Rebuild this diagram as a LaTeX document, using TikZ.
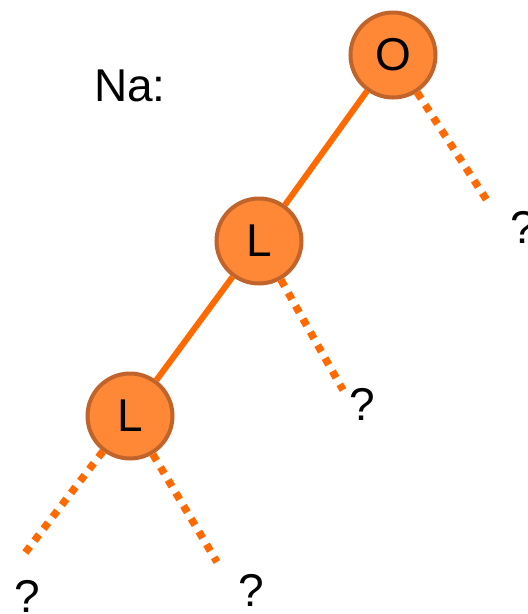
\documentclass[tikz,border=0pt]{standalone}
\usepackage{fontspec}
\setmainfont{Liberation Sans}
\definecolor{nodefill}{HTML}{FF8836}
\definecolor{nodeborder}{HTML}{C0642C}
\definecolor{edgecol}{HTML}{FF6A00}
\begin{document}
\begin{tikzpicture}[x=1pt,y=-1pt,
  tnode/.style={circle,fill=nodefill,draw=nodeborder,line width=4pt,minimum size=85pt,inner sep=0pt,font=\fontsize{46}{46}\selectfont},
  lbl/.style={font=\fontsize{46}{46}\selectfont,inner sep=0pt},
  solidedge/.style={draw=edgecol,line width=6pt},
  dotedge/.style={draw=edgecol,line width=7.5pt,dash pattern=on 7.5pt off 7.5pt}]
\useasboundingbox (0,0) rectangle (528,614);
\coordinate (e1) at (488,202);
\coordinate (e2) at (343,390);
\coordinate (e3) at (25,553);
\coordinate (e4) at (217,562);
\node[tnode] (O) at (393,55) {O};
\node[tnode] (L1) at (259,241) {L};
\node[tnode] (L2) at (130,416) {L};
\draw[solidedge] (O) -- (L1);
\draw[solidedge] (L1) -- (L2);
\draw[dotedge] (O) -- (e1);
\draw[dotedge] (L1) -- (e2);
\draw[dotedge] (L2) -- (e3);
\draw[dotedge] (L2) -- (e4);
\node[lbl] (na) at (130,86) {Na:};
\node[lbl] (q1) at (523,227) {?};
\node[lbl] (q2) at (362,404) {?};
\node[lbl] (q3) at (27,596) {?};
\node[lbl] (q4) at (251,590) {?};
\end{tikzpicture}
\end{document}
